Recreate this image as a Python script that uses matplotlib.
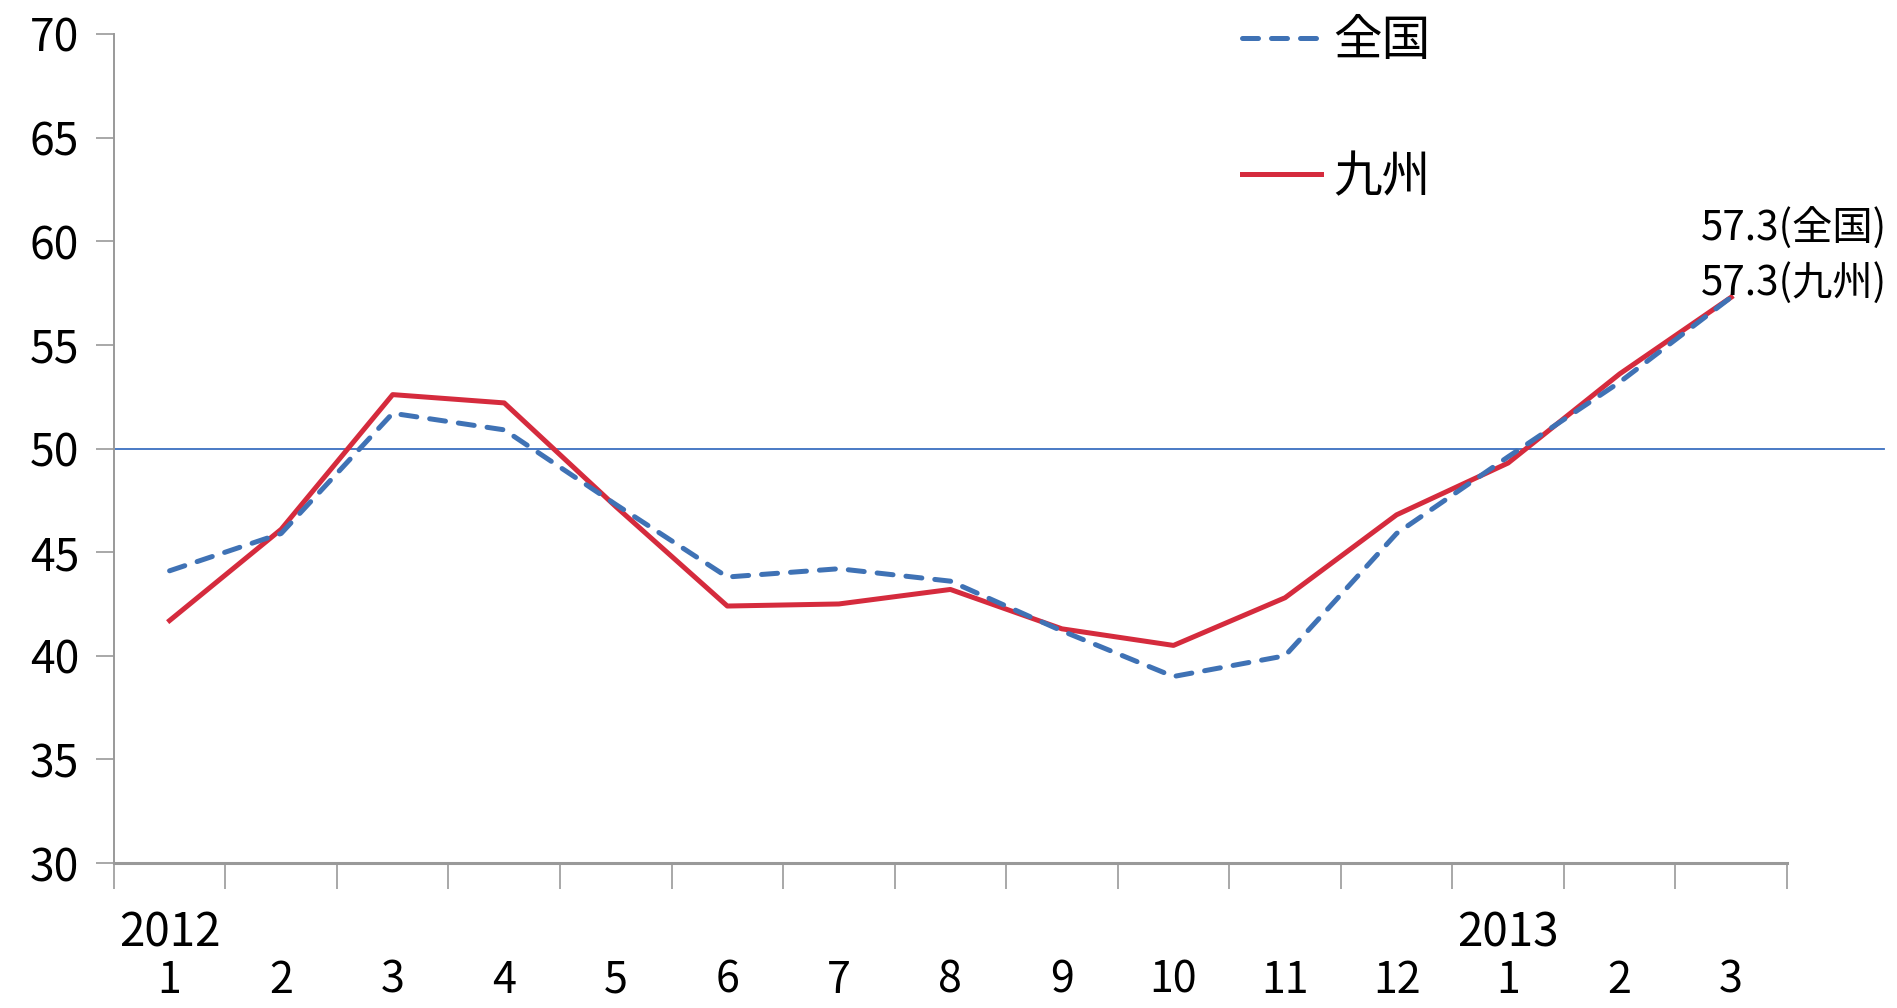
import matplotlib.pyplot as plt

plt.rcParams['font.family'] = ['Noto Sans CJK JP', 'DejaVu Sans']

months = ['1', '2', '3', '4', '5', '6', '7', '8', '9', '10', '11', '12', '1', '2', '3']
years = {0: '2012', 12: '2013'}
zenkoku = [44.1, 45.9, 51.7, 50.9, 47.3, 43.8, 44.2, 43.6, 41.2, 39.0, 40.0, 45.9, 49.6, 53.2, 57.3]
kyushu = [41.7, 46.1, 52.6, 52.2, 47.2, 42.4, 42.5, 43.2, 41.3, 40.5, 42.8, 46.8, 49.3, 53.6, 57.3]
ref_level = 50

fig = plt.figure(figsize=(18.97, 10.08), dpi=100)
ax = fig.add_axes([0.060, 0.1438, 0.882, 0.8225])

x = list(range(len(months)))
ax.plot(x, zenkoku, color='#3f72b5', lw=3.6, ls=(0, (3.2, 2.6)),
        dash_capstyle='round', label='全国', zorder=3)
ax.plot(x, kyushu, color='#d52b3d', lw=3.6, label='九州', zorder=2)
ax.axhline(ref_level, xmin=0, xmax=1.058, color='#3a6fc0', lw=1.3,
           clip_on=False, zorder=1)

ax.set_xlim(-0.5, len(months) - 0.5)
ax.set_ylim(30, 70)
ax.set_yticks(range(30, 71, 5))
ax.tick_params(axis='y', labelsize=32, length=13, width=1.2,
               color='#999999', pad=12)

# boundaries carry the tick marks, centres carry the labels
ax.set_xticks([i - 0.5 for i in range(len(months) + 1)])
ax.set_xticklabels([])
ax.set_xticks(x, minor=True)
ax.set_xticklabels(months, minor=True)
ax.tick_params(axis='x', which='major', length=19, width=1.2, color='#999999')
ax.tick_params(axis='x', which='minor', length=0, labelsize=31, pad=69)
for i, yr in years.items():
    ax.annotate(yr, xy=(i, 0), xycoords=('data', 'axes fraction'),
                xytext=(0, -70), textcoords='offset pixels',
                ha='center', va='center', fontsize=33)

for side in ['top', 'right']:
    ax.spines[side].set_visible(False)
ax.spines['left'].set_color('#999999')
ax.spines['left'].set_linewidth(1.4)
ax.spines['bottom'].set_color('#999999')
ax.spines['bottom'].set_linewidth(2.2)

ax.annotate(f'{zenkoku[-1]}(全国)', xy=(x[-1], zenkoku[-1]), xytext=(156, 68),
            textcoords='offset pixels', ha='right', va='center', fontsize=29)
ax.annotate(f'{kyushu[-1]}(九州)', xy=(x[-1], kyushu[-1]), xytext=(156, 14),
            textcoords='offset pixels', ha='right', va='center', fontsize=29)

ax.legend(loc='upper left', bbox_to_anchor=(0.648, 1.074), frameon=False,
          fontsize=35, handlelength=1.63, handletextpad=0.25, labelspacing=1.79)

fig.savefig('out.png', dpi=100)
